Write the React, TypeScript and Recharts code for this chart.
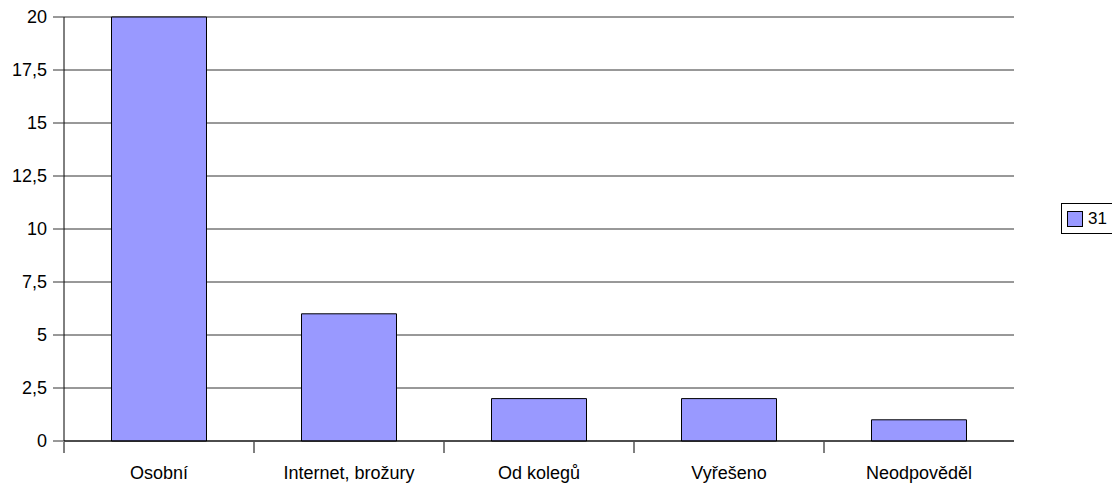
import React from 'react';
import { BarChart, Bar, XAxis, YAxis, CartesianGrid } from 'recharts';

const categories = ['Osobní', 'Internet, brožury', 'Od kolegů', 'Vyřešeno', 'Neodpověděl'];
const values31 = [20, 6, 2, 2, 1];
const yTicks = [0, 2.5, 5, 7.5, 10, 12.5, 15, 17.5, 20];
const seriesName = '31';

const data = categories.map((name, i) => ({ name, v: values31[i] }));

const FONT = '"Liberation Sans", Arial, sans-serif';
const BAR_COLOR = '#9999ff';

// category labels with the separator tick on the left edge of each slot
function CategoryTick(props: any) {
  const { x, y, payload, visibleTicksCount } = props;
  const band = 950 / (visibleTicksCount || 5);
  const left = x - band / 2;
  return (
    <g>
      <line x1={left} y1={y - 9} x2={left} y2={y + 2} stroke="#000" />
      <text x={x} y={y + 28} textAnchor="middle" fontSize={18} fontFamily={FONT} fill="#000">
        {payload.value}
      </text>
    </g>
  );
}

function LegendBox() {
  return (
    <div
      style={{
        position: 'absolute',
        left: 1061,
        top: 203,
        width: 60,
        height: 31,
        border: '1px solid #000',
        background: '#fff',
        boxSizing: 'border-box',
        display: 'flex',
        alignItems: 'center',
        paddingLeft: 5,
        fontFamily: FONT,
        fontSize: 17,
      }}
    >
      <span
        style={{
          display: 'inline-block',
          width: 16,
          height: 16,
          background: BAR_COLOR,
          border: '1px solid #000',
          boxSizing: 'border-box',
          marginRight: 5,
        }}
      />
      <span>{seriesName}</span>
    </div>
  );
}

export default function App() {
  return (
    <div style={{ position: 'absolute', left: 0, top: 0, width: 1112, height: 484, overflow: 'hidden', background: '#fff' }}>
      <BarChart
        width={1112}
        height={484}
        data={data}
        margin={{ top: 17, right: 98, bottom: 0, left: 0 }}
        barCategoryGap="25%"
      >
        <CartesianGrid vertical={false} stroke="#333" />
        <YAxis
          width={64}
          domain={[0, 20]}
          ticks={yTicks}
          interval={0}
          tickFormatter={(v: number) => String(v).replace('.', ',')}
          tick={{ fontSize: 18, fontFamily: FONT, fill: '#000' }}
          tickSize={11}
          tickMargin={6}
          tickLine={{ stroke: '#333' }}
          axisLine={{ stroke: '#000' }}
        />
        <XAxis
          dataKey="name"
          height={43}
          interval={0}
          tickLine={false}
          axisLine={{ stroke: '#000' }}
          tick={<CategoryTick />}
          tickSize={8}
        />
        <Bar
          dataKey="v"
          name={seriesName}
          fill={BAR_COLOR}
          stroke="#000"
          strokeWidth={1}
          isAnimationActive={false}
        />
      </BarChart>
      <LegendBox />
    </div>
  );
}
